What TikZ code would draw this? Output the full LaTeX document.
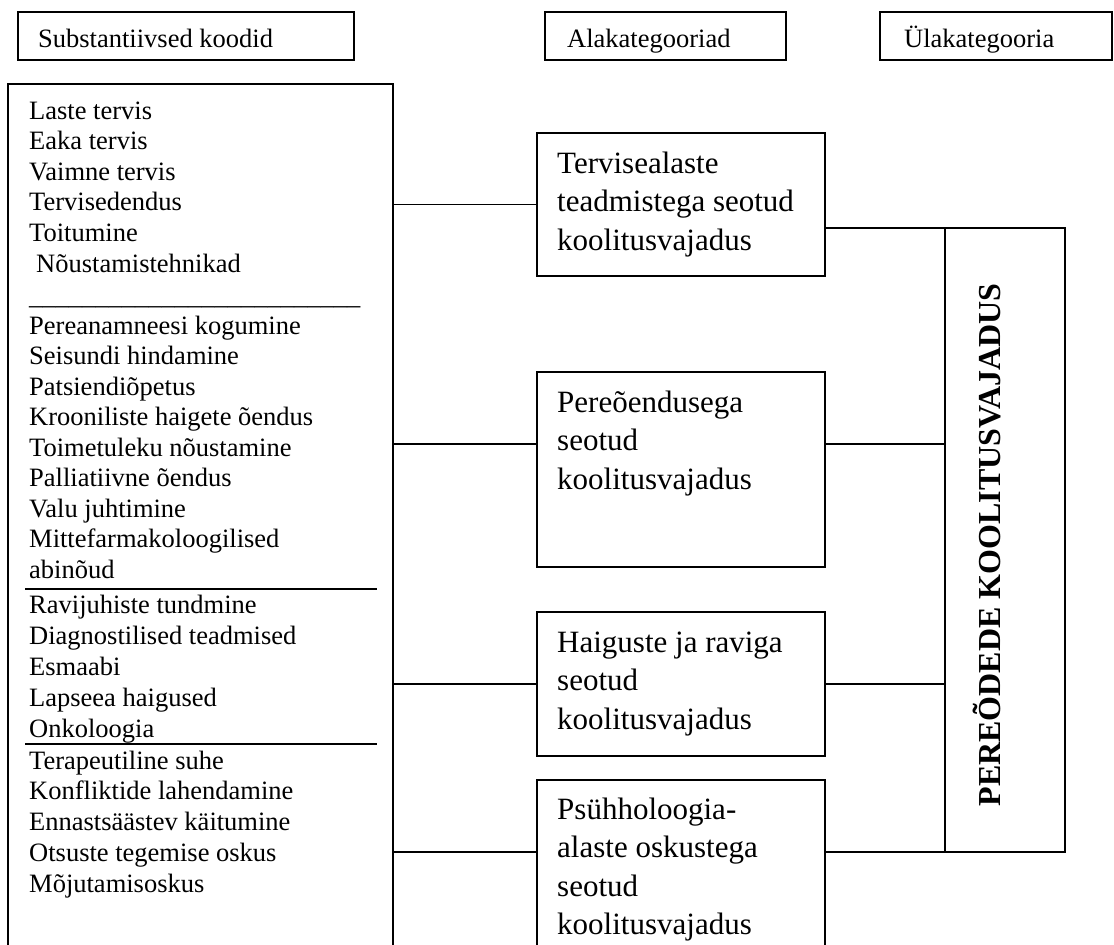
\documentclass[tikz,border=0pt]{standalone}
\usepackage{fontspec}
\setmainfont{Liberation Serif}
\begin{document}
\begin{tikzpicture}[x=1pt,y=-1pt,
  box/.style={draw, line width=1.7pt, inner sep=0pt, outer sep=0pt, rectangle, anchor=north west},
  head/.style={font=\fontsize{26.5}{30}\selectfont, inner sep=0pt, anchor=base west},
  item/.style={font=\fontsize{26.5}{30}\selectfont, inner sep=0pt, anchor=base west},
  cat/.style={font=\fontsize{31}{38.5}\selectfont, inner sep=0pt, anchor=base west},
  link/.style={line width=1.5pt},
  sep/.style={line width=1.7pt}]
\useasboundingbox (0,0) rectangle (1114,945);
\clip (0,0) rectangle (1114,945);

% column headings
\node[box, minimum width=336pt, minimum height=48pt] (hcodes) at (18,12) {};
\node[head] (hcodes-t) at (38,47) {Substantiivsed koodid};
\node[box, minimum width=241pt, minimum height=48pt] (hsub) at (545,12) {};
\node[head] (hsub-t) at (567,47) {Alakategooriad};
\node[box, minimum width=232pt, minimum height=48pt] (hmain) at (880,12) {};
\node[head] (hmain-t) at (904,47) {Ülakategooria};

% substantive codes
\node[box, minimum width=385pt, minimum height=880pt] (codes) at (8,84) {};
\foreach \t [count=\i] in {Laste tervis, Eaka tervis, Vaimne tervis, Tervisedendus, Toitumine}
  \node[item] (g1-\i) at (29,{119+(\i-1)*30.6}) {\t};
\node[item] (g1-6) at (36,272) {Nõustamistehnikad};
\node[item] (g1-rule) at (29,304) {\_\_\_\_\_\_\_\_\_\_\_\_\_\_\_\_\_\_\_\_\_\_\_\_\_};
\foreach \t [count=\i] in {Pereanamneesi kogumine, Seisundi hindamine, Patsiendiõpetus,
    Krooniliste haigete õendus, Toimetuleku nõustamine, Palliatiivne õendus,
    Valu juhtimine, Mittefarmakoloogilised, abinõud}
  \node[item] (g2-\i) at (29,{334+(\i-1)*30.5}) {\t};
\draw[sep] (25,589) -- (377,589);
\foreach \t [count=\i] in {Ravijuhiste tundmine, Diagnostilised teadmised, Esmaabi,
    Lapseea haigused, Onkoloogia}
  \node[item] (g3-\i) at (29,{613+(\i-1)*31}) {\t};
\draw[sep] (25,744) -- (377,744);
\foreach \t [count=\i] in {Terapeutiline suhe, Konfliktide lahendamine,
    Ennastsäästev käitumine, Otsuste tegemise oskus, Mõjutamisoskus}
  \node[item] (g4-\i) at (29,{769+(\i-1)*30.75}) {\t};

% subcategories
\node[box, minimum width=288pt, minimum height=143pt] (boxA) at (537,133) {};
\foreach \t [count=\i] in {Tervisealaste, teadmistega seotud, koolitusvajadus}
  \node[cat] (tA-\i) at (557,{173+(\i-1)*38.5}) {\t};
\node[box, minimum width=288pt, minimum height=195pt] (boxB) at (537,372) {};
\foreach \t [count=\i] in {Pereõendusega, seotud, koolitusvajadus}
  \node[cat] (tB-\i) at (557,{412+(\i-1)*38.5}) {\t};
\node[box, minimum width=288pt, minimum height=144pt] (boxC) at (537,612) {};
\foreach \t [count=\i] in {Haiguste ja raviga, seotud, koolitusvajadus}
  \node[cat] (tC-\i) at (557,{652+(\i-1)*38.5}) {\t};
\node[box, minimum width=288pt, minimum height=185pt] (boxD) at (537,780) {};
\foreach \t [count=\i] in {Psühholoogia-, alaste oskustega, seotud, koolitusvajadus}
  \node[cat] (tD-\i) at (557,{819+(\i-1)*38.5}) {\t};

% main category
\node[box, line width=1.5pt, minimum width=120pt, minimum height=624pt] (tall) at (945,228) {};
\node[font=\bfseries\fontsize{32}{36}\selectfont, rotate=90, anchor=base, inner sep=0pt]
  (title) at (1000,545) {PEREÕDEDE KOOLITUSVAJADUS};

% connectors
\coordinate (bl) at (537,444);
\coordinate (br) at (825,444);
\draw[link] (codes.east |- boxA.west) -- (boxA.west);
\draw[link] (bl -| codes.east) -- (bl);
\draw[link] (codes.east |- boxC.west) -- (boxC.west);
\draw[link] (codes.east |- tall.south west) -- (tall.south west -| boxD.west);
\draw[link] (boxA.east |- tall.north west) -- (tall.north west);
\draw[link] (br) -- (br -| tall.west);
\draw[link] (boxC.east) -- (boxC.east -| tall.west);
\draw[link] (boxD.east |- tall.south west) -- (tall.south west);
\end{tikzpicture}
\end{document}
